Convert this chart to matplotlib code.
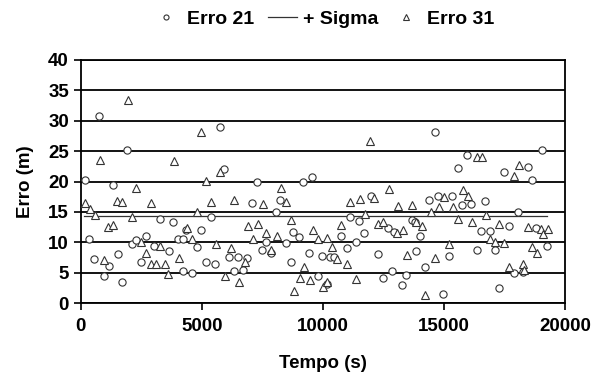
import matplotlib.pyplot as plt

plt.rcParams['font.family'] = ['Liberation Sans', 'DejaVu Sans']
plt.rcParams['font.weight'] = 'bold'
plt.rcParams['font.size'] = 13.5

# Erro 21 (circles)
t21 = [194, 340, 550, 750, 960, 1150, 1320, 1530, 1690, 1900, 2120, 2300, 2480, 2690,
       3030, 3264, 3650, 3815, 4020, 4227, 4227, 4364, 4600, 4790, 4986, 5170, 5372, 5537,
       5744, 5930, 6120, 6310, 6500, 6710, 6870, 7090, 7287, 7500, 7672, 7870, 8060, 8230,
       8460, 8665, 8773, 9030, 9200, 9420, 9565, 9800, 9975, 10180, 10290, 10467, 10740,
       10980, 11140, 11350, 11500, 11720, 11990, 12285, 12490, 12680, 12864, 12930, 13280,
       13450, 13665, 13800, 13850, 14007, 14215, 14400, 14650, 14760, 14970, 15220, 15320,
       15566, 15730, 15963, 16116, 16350, 16530, 16694, 16900, 17107, 17285, 17479, 17686,
       17893, 18045, 18277, 18484, 18624, 18800, 19037, 19243]
e21 = [20.2, 10.6, 7.2, 30.8, 4.5, 6.1, 19.4, 8.1, 3.4, 25.2, 9.7, 10.4, 6.7, 11.0,
       9.4, 13.9, 8.6, 13.4, 10.6, 10.5, 5.3, 12.0, 4.9, 9.3, 12.1, 6.8, 14.2, 6.5,
       28.9, 22.0, 7.6, 5.2, 7.5, 5.4, 7.4, 16.4, 20.0, 8.8, 10.0, 8.3, 15.0, 16.9,
       9.9, 6.7, 11.7, 10.9, 20.0, 8.3, 20.7, 4.4, 7.8, 3.2, 7.6, 7.5, 11.1,
       9.0, 14.2, 10.0, 13.5, 11.6, 17.6, 8.1, 4.2, 12.4, 5.2, 11.7, 3.0,
       4.6, 13.7, 13.4, 8.6, 11.0, 6.0, 17.0, 28.2, 17.6, 1.5, 7.8, 17.6,
       22.3, 16.2, 24.3, 16.3, 8.8, 11.8, 16.8, 11.8, 8.7, 2.4, 21.6, 12.7,
       5.0, 14.9, 5.1, 22.4, 20.3, 12.4, 25.2, 9.4]

# Erro 31 (triangles)
t31 = [194, 380, 590, 785, 970, 1130, 1350, 1480, 1720, 1940, 2120, 2290, 2508, 2700,
       2890, 2890, 3100, 3264, 3471, 3620, 3850, 4040, 4400, 4600, 4800, 4950, 5193, 5400,
       5566, 5744, 5960, 6190, 6330, 6530, 6780, 6900, 7110, 7310, 7530, 7672, 7860, 8087,
       8260, 8480, 8670, 8815, 9050, 9220, 9450, 9600, 9800, 10014, 10153, 10190, 10370,
       10570, 10750, 10980, 11130, 11380, 11530, 11750, 11942, 12100, 12285, 12500, 12727,
       13045, 13087, 13318, 13459, 13665, 13850, 14078, 14215, 14470, 14628, 14810, 15010,
       15220, 15384, 15590, 15770, 16000, 16145, 16350, 16556, 16740, 16920, 17107, 17285,
       17500, 17700, 17905, 18099, 18277, 18305, 18470, 18624, 18840, 19020, 19078, 19285]
e31 = [16.4, 15.4, 14.5, 23.5, 7.0, 12.5, 12.8, 16.8, 16.7, 33.4, 14.1, 19.0, 10.0, 8.2,
       16.4, 6.5, 6.5, 9.4, 6.5, 4.8, 23.4, 7.4, 12.4, 10.5, 14.9, 28.2, 20.1, 16.6,
       9.7, 21.6, 4.4, 9.0, 16.9, 3.4, 6.8, 12.7, 10.6, 13.0, 16.3, 11.5, 8.8, 11.0,
       18.9, 16.6, 13.7, 2.0, 4.2, 6.0, 3.8, 12.0, 10.6, 2.7, 3.4, 10.7, 9.3,
       7.3, 12.8, 6.5, 16.6, 4.0, 17.2, 14.7, 26.6, 17.3, 13.0, 13.3, 18.8,
       11.6, 16.0, 12.0, 7.9, 16.1, 13.4, 12.7, 1.3, 14.9, 7.4, 15.8, 17.5,
       9.7, 15.8, 13.8, 18.6, 17.6, 13.4, 24.1, 24.1, 14.5, 10.5, 10.0, 13.0,
       9.9, 5.9, 20.9, 22.7, 6.4, 5.4, 12.5, 9.2, 8.2, 12.2, 11.3, 12.2]

# + Sigma
t_sig = [150, 19250]
sigma = [14.4, 14.4]

fig = plt.figure(figsize=(5.94, 3.87), dpi=100)
ax = fig.add_axes([0.136, 0.217, 0.815, 0.628])

ax.plot(t21, e21, linestyle='none', marker='o', markersize=5.2, markerfacecolor='white',
        markeredgecolor='#333333', markeredgewidth=0.8, label='Erro 21', zorder=3)
ax.plot(t_sig, sigma, color='#333333', linewidth=0.9, label='+ Sigma', zorder=2)
ax.plot(t31, e31, linestyle='none', marker='^', markersize=5.5, markerfacecolor='white',
        markeredgecolor='#333333', markeredgewidth=0.8, label='Erro 31', zorder=3)

ax.set_xlim(0, 20000)
ax.set_ylim(0, 40)
ax.set_xticks([0, 5000, 10000, 15000, 20000])
ax.set_yticks(range(0, 41, 5))
ax.yaxis.grid(True, color='black', linewidth=1.3)
ax.set_axisbelow(True)
for s in ax.spines.values():
    s.set_linewidth(1.3)
ax.tick_params(axis='both', direction='out', length=5, width=1.2, labelsize=13.5)
ax.tick_params(axis='x', pad=6)

ax.set_xlabel('Tempo (s)', fontsize=13.5, fontweight='bold', labelpad=14)
ax.set_ylabel('Erro (m)', fontsize=13.5, fontweight='bold', labelpad=10)

ax.legend(loc='lower center', bbox_to_anchor=(0.5, 1.06), ncol=3, frameon=False,
          markerscale=0.7, handlelength=1.5, columnspacing=0.7, handletextpad=0.3,
          fontsize=14)

fig.savefig('out.png', dpi=100)
